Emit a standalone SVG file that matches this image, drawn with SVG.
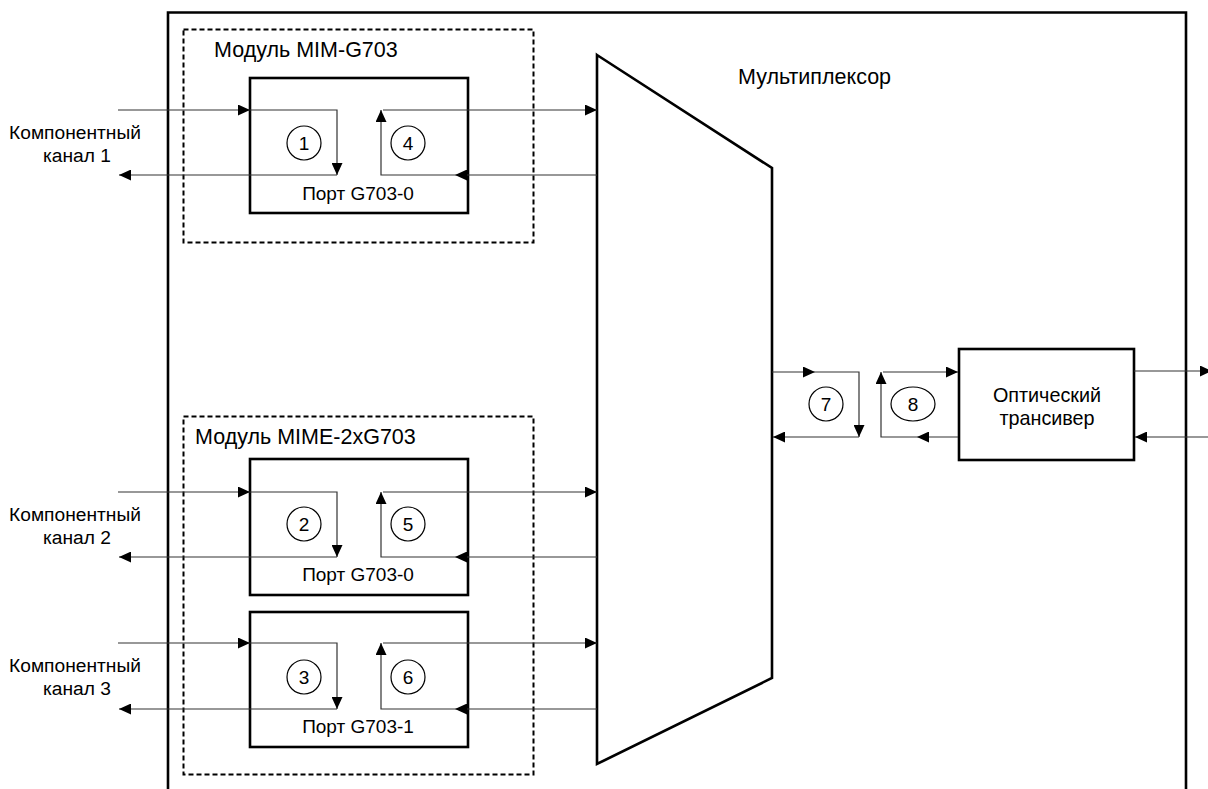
<svg xmlns="http://www.w3.org/2000/svg" width="1208" height="789" viewBox="0 0 1208 789">
<style>
text{font-family:"Liberation Sans",Arial,sans-serif;fill:#000}
.lbl{font-size:19.2px;text-anchor:middle}
.mod{font-size:21.5px}
.port{font-size:19px;text-anchor:middle}
.num{font-size:19px;text-anchor:middle}
.frame{fill:none;stroke:#000;stroke-width:2.6}
.box{fill:#fff;stroke:#000;stroke-width:2.6}
.dash{fill:none;stroke:#000;stroke-width:2;stroke-dasharray:5,3}
.ln-a{fill:none;stroke:#333;stroke-width:1.2;marker-end:url(#arr)}
.c{fill:#fff;stroke:#000;stroke-width:1.2}
</style>
<defs>
<marker id="arr" markerUnits="userSpaceOnUse" markerWidth="12" markerHeight="11" refX="12" refY="5.5" orient="auto">
<path d="M0,0 L12,5.5 L0,11 z" fill="#000"/>
</marker>
</defs>
<rect width="1208" height="789" fill="#fff"/>
<g id="frame"><path class="frame" d="M168,792 L168,12.5 L1186,12.5 L1186,792"/></g>
<g id="module1">
<rect class="dash" x="183.5" y="29.5" width="350" height="213"/>
<text class="mod" x="214" y="57">Модуль MIM-G703</text>
</g>
<g id="module2">
<rect class="dash" x="183.5" y="416.5" width="350" height="358"/>
<text class="mod" x="195" y="444">Модуль MIME-2xG703</text>
</g>
<g id="port1"><rect class="box" x="250" y="78" width="218" height="135"/><text class="port" x="358" y="199.5">Порт G703-0</text></g>
<g id="port2"><rect class="box" x="250" y="459" width="218" height="136"/><text class="port" x="358" y="581">Порт G703-0</text></g>
<g id="port3"><rect class="box" x="250" y="612" width="218" height="135"/><text class="port" x="358" y="733">Порт G703-1</text></g>
<g id="mux"><path class="box" d="M597,55 L772,168 L772,678 L597,764 Z"/><text x="738" y="84" style="font-size:21.5px">Мультиплексор</text></g>
<g id="transceiver"><rect class="box" x="959" y="349" width="175" height="111"/>
<text class="lbl" x="1047" y="401.5" style="font-size:19.8px">Оптический</text><text class="lbl" x="1047" y="425" style="font-size:19.8px">трансивер</text></g>
<g id="labels">
<text class="lbl" x="75" y="139">Компонентный</text><text class="lbl" x="77" y="162">канал 1</text>
<text class="lbl" x="75" y="521">Компонентный</text><text class="lbl" x="77" y="544">канал 2</text>
<text class="lbl" x="75" y="672">Компонентный</text><text class="lbl" x="77" y="695">канал 3</text>
</g>
<g id="connectors">
<path class="ln-a" d="M118,110 L250,110"/>
<path class="ln-a" d="M250,110 L337,110 L337,175"/>
<path class="ln-a" d="M337,175 L119,175"/>
<path class="ln-a" d="M597,175 L455,175"/>
<path class="ln-a" d="M455,175 L381,175 L381,110"/>
<path class="ln-a" d="M383,110 L597,110"/>
<path class="ln-a" d="M118,492 L250,492"/>
<path class="ln-a" d="M250,492 L337,492 L337,557"/>
<path class="ln-a" d="M337,557 L119,557"/>
<path class="ln-a" d="M597,557 L455,557"/>
<path class="ln-a" d="M455,557 L381,557 L381,492"/>
<path class="ln-a" d="M383,492 L597,492"/>
<path class="ln-a" d="M118,643 L250,643"/>
<path class="ln-a" d="M250,643 L337,643 L337,709"/>
<path class="ln-a" d="M337,709 L119,709"/>
<path class="ln-a" d="M597,709 L455,709"/>
<path class="ln-a" d="M455,709 L381,709 L381,643"/>
<path class="ln-a" d="M383,643 L597,643"/>
<path class="ln-a" d="M772,372 L815,372"/>
<path class="ln-a" d="M815,372 L859,372 L859,437"/>
<path class="ln-a" d="M859,437 L773,437"/>
<path class="ln-a" d="M958,437 L917,437"/>
<path class="ln-a" d="M917,437 L881,437 L881,372"/>
<path class="ln-a" d="M883,372 L958,372"/>
<path class="ln-a" d="M1134,371 L1212,371"/>
<path class="ln-a" d="M1208,437 L1135,437"/>
</g>
<g id="numbers">
<circle class="c" cx="304" cy="143" r="17"/><text class="num" x="304" y="150">1</text>
<circle class="c" cx="408" cy="143" r="17"/><text class="num" x="408" y="150">4</text>
<circle class="c" cx="304" cy="524" r="17"/><text class="num" x="304" y="531">2</text>
<circle class="c" cx="408" cy="524" r="17"/><text class="num" x="408" y="531">5</text>
<circle class="c" cx="304" cy="677" r="17"/><text class="num" x="304" y="684">3</text>
<circle class="c" cx="408" cy="677" r="17"/><text class="num" x="408" y="684">6</text>
<circle class="c" cx="826" cy="404" r="17"/><text class="num" x="826" y="411">7</text>
<ellipse class="c" cx="913" cy="404" rx="22" ry="17"/><text class="num" x="913" y="411">8</text>
</g>
</svg>
